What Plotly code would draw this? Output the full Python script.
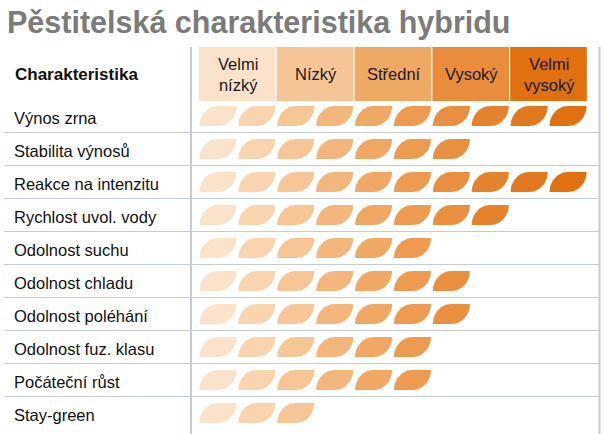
import numpy as np
import plotly.graph_objects as go

# ---- data ----
title = "Pěstitelská charakteristika hybridu"
header_title = "Charakteristika"
levels = ["Velmi<br>nízký", "Nízký", "Střední", "Vysoký", "Velmi<br>vysoký"]
characteristics = ["Výnos zrna", "Stabilita výnosů", "Reakce na intenzitu",
                   "Rychlost uvol. vody", "Odolnost suchu", "Odolnost chladu",
                   "Odolnost poléhání", "Odolnost fuz. klasu", "Počáteční růst",
                   "Stay-green"]
scores = [10, 7, 10, 8, 6, 7, 7, 6, 6, 3]   # number of leaves (1-10)

level_colors = ["#FBE2CB", "#F6C597", "#F0A865", "#E98C3B", "#E07010"]
leaf_colors = ["#FBE2CA", "#F9D4AF", "#F6C696", "#F3B77D", "#F0A864",
               "#EC9B50", "#E98F40", "#E5832D", "#E2791E", "#E07010"]

# ---- geometry (pixel layout helpers) ----
W, H = 605, 434
X0PX, UX = 199.0, 38.9      # pixel of leaf-scale 0, px per leaf unit
Y0PX, UY = 116.0, 33.0      # pixel of row 0 center, px per row

FONT = "Liberation Sans, Arial, sans-serif"


def px_x(p):
    return (p - X0PX) / UX


def px_y(p):
    return (p - Y0PX) / UY


fig = go.Figure()

line_col = "#C4CCD8"

# row separators
for i in range(len(characteristics) - 1):
    yy = i + 0.5
    fig.add_trace(go.Scatter(x=[px_x(4), px_x(599)], y=[yy, yy], mode="lines",
                             line=dict(color=line_col, width=1.2),
                             hoverinfo="skip", showlegend=False))
# vertical lines
for xp in (191, 599.5):
    fig.add_trace(go.Scatter(x=[px_x(xp), px_x(xp)], y=[px_y(47), px_y(H)],
                             mode="lines", line=dict(color=line_col, width=2),
                             hoverinfo="skip", showlegend=False))

# header boxes
for k, (lab, col) in enumerate(zip(levels, level_colors)):
    x0, x1 = 2 * k, 2 * k + 2
    fig.add_trace(go.Scatter(
        x=[x0, x1 - 0.03, x1 - 0.03, x0, x0],
        y=[px_y(47), px_y(47), px_y(101), px_y(101), px_y(47)],
        mode="lines", fill="toself", fillcolor=col, line=dict(width=0),
        hoverinfo="skip", showlegend=False))
    fig.add_annotation(x=(x0 + x1) / 2, y=px_y(74), text=lab, showarrow=False,
                       font=dict(family=FONT, size=16.5, color="#1a1a1a"),
                       xanchor="center", yanchor="middle", align="center")

# leaves
t = np.linspace(0, np.pi / 2, 20)
lw, lh, a = 0.955, 20.0 / UY, 0.5
for r, n in enumerate(scores):
    yb, yt = r + lh / 2, r - lh / 2
    for j in range(n):
        x0 = j + 0.01
        x1 = x0 + lw
        ax = a * lw
        # top-left arc from bottom-left corner to top
        xs1 = x0 + ax - ax * np.cos(t)
        ys1 = yb - (yb - yt) * np.sin(t)
        # bottom-right arc from top-right corner to bottom
        xs2 = x1 - ax + ax * np.cos(t)
        ys2 = yt + (yb - yt) * np.sin(t)
        xs = np.concatenate([xs1, xs2, [x0]])
        ys = np.concatenate([ys1, ys2, [yb]])
        fig.add_trace(go.Scatter(x=xs, y=ys, mode="lines", fill="toself",
                                 fillcolor=leaf_colors[j], line=dict(width=0),
                                 hoverinfo="skip", showlegend=False))

# row labels
for r, lab in enumerate(characteristics):
    fig.add_annotation(x=px_x(12), y=r + 0.05, text=lab, showarrow=False,
                       xanchor="left", yanchor="middle",
                       font=dict(family=FONT, size=16.5, color="#111111"))

fig.add_annotation(x=px_x(13), y=px_y(74), text="<b>" + header_title + "</b>",
                   showarrow=False, xanchor="left", yanchor="middle",
                   font=dict(family=FONT, size=17, color="#111111"))

fig.add_annotation(x=px_x(5), y=px_y(22), text="<b>" + title + "</b>",
                   showarrow=False, xanchor="left", yanchor="middle",
                   font=dict(family=FONT, size=30.5, color="#7B7B7B"))

fig.update_layout(
    width=W, height=H, margin=dict(l=0, r=0, t=0, b=0),
    paper_bgcolor="white", plot_bgcolor="white",
    xaxis=dict(range=[px_x(0), px_x(W)], visible=False, fixedrange=True),
    yaxis=dict(range=[px_y(H), px_y(0)], visible=False, fixedrange=True),
    showlegend=False,
)

fig.write_html("out.html")
